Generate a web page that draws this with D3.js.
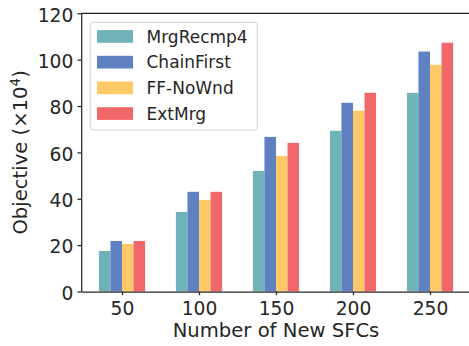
<!DOCTYPE html>
<html>
<head>
<meta charset="utf-8">
<script src="https://cdn.jsdelivr.net/npm/d3@7"></script>
<style>
  html, body { margin: 0; padding: 0; background: #ffffff; }
  svg { display: block; }
  text { font-family: "DejaVu Sans", sans-serif; fill: #262626; }
</style>
</head>
<body>
<svg id="chart" width="469" height="346"></svg>
<script>
// Categories (number of new SFCs) and objective values (×10^4) per method
const categories = ["50", "100", "150", "200", "250"];
const seriesNames = ["MrgRecmp4", "ChainFirst", "FF-NoWnd", "ExtMrg"];
const mrgRecmp4 = [17.5, 34.3, 52.0, 69.3, 85.7];
const chainFirst = [21.8, 43.0, 66.7, 81.4, 103.5];
const ffNoWnd = [20.5, 39.5, 58.5, 78.0, 97.8];
const extMrg = [21.8, 43.0, 64.1, 85.7, 107.3];
const seriesColors = ["#6fb3b8", "#5f80c1", "#fec966", "#f1676a"];
const yTicks = [0, 20, 40, 60, 80, 100, 120];

const series = [mrgRecmp4, chainFirst, ffNoWnd, extMrg];

const svg = d3.select("#chart");
const plotL = 81.2, plotR = 470.8, plotT = 13.3, plotB = 291.5;
const barW = 0.15;

// Group index scale, with padding around the outer bars
const x = d3.scaleLinear().domain([-0.53, 4.53]).range([plotL, plotR]);
const y = d3.scaleLinear().domain([0, 120]).range([plotB, plotT]);

// Bars
series.forEach((vals, si) => {
  const off = (si - 1.5) * barW;
  svg.append("g")
    .selectAll("rect")
    .data(vals)
    .join("rect")
    .attr("x", (d, i) => x(i + off - barW / 2))
    .attr("width", (d, i) => x(i + off + barW / 2) - x(i + off - barW / 2))
    .attr("y", d => y(d))
    .attr("height", d => y(0) - y(d))
    .attr("fill", seriesColors[si]);
});

// Axes
const xAxis = d3.axisBottom(x)
  .tickValues(d3.range(categories.length))
  .tickFormat(i => categories[i])
  .tickSize(3.7).tickSizeOuter(0).tickPadding(7);
const gx = svg.append("g").attr("transform", `translate(0,${plotB})`).call(xAxis);
gx.selectAll("text").attr("font-size", 18.7).attr("fill", "#262626");

const yAxis = d3.axisLeft(y)
  .tickValues(yTicks)
  .tickSize(3.7).tickSizeOuter(0).tickPadding(4.2);
const gy = svg.append("g").attr("transform", `translate(${plotL},0)`).call(yAxis);
gy.selectAll("text").attr("font-size", 18.7).attr("fill", "#262626").attr("dy", "0.42em");

[gx, gy].forEach(g => {
  g.select(".domain").attr("stroke", "#262626").attr("stroke-width", 1.25);
  g.selectAll(".tick line").attr("stroke", "#262626").attr("stroke-width", 1.25);
});

// Top spine (the right spine falls outside the canvas)
svg.append("line")
  .attr("x1", plotL).attr("x2", plotR)
  .attr("y1", plotT).attr("y2", plotT)
  .attr("stroke", "#262626").attr("stroke-width", 1.25);

// Axis titles
svg.append("text")
  .attr("x", (plotL + plotR) / 2).attr("y", 337)
  .attr("text-anchor", "middle")
  .attr("font-size", 19.6)
  .text("Number of New SFCs");

const yl = svg.append("text")
  .attr("transform", `translate(26.5,${(plotT + plotB) / 2}) rotate(-90)`)
  .attr("text-anchor", "middle")
  .attr("font-size", 19.6);
yl.append("tspan").text("Objective (×10");
yl.append("tspan").attr("font-size", 13.5).attr("dy", -7).text("4");
yl.append("tspan").attr("dy", 7).text(")");

// Legend
const lg = svg.append("g");
lg.append("rect")
  .attr("x", 90.2).attr("y", 22.3)
  .attr("width", 167).attr("height", 107.7)
  .attr("rx", 3)
  .attr("fill", "#ffffff").attr("fill-opacity", 0.8)
  .attr("stroke", "#d0d0d0").attr("stroke-width", 1);
seriesNames.forEach((name, i) => {
  const cy = 36.4 + i * 25.7;
  lg.append("rect")
    .attr("x", 97).attr("y", cy - 6.3)
    .attr("width", 36).attr("height", 12.7)
    .attr("fill", seriesColors[i]);
  lg.append("text")
    .attr("x", 146.5).attr("y", cy + 6.2)
    .attr("font-size", 17)
    .text(name);
});
</script>
</body>
</html>
